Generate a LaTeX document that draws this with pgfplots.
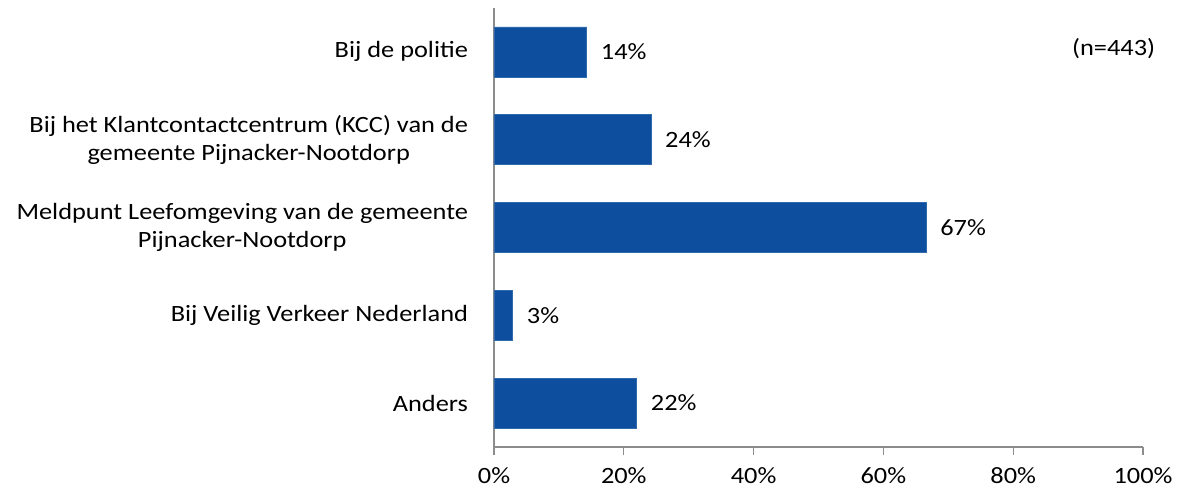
\documentclass[border=0pt]{standalone}
\usepackage{fontspec}
\setmainfont{Carlito}[FakeStretch=1.13]
\usepackage{pgfplots}
\pgfplotsset{compat=1.18}
\definecolor{barblue}{HTML}{0D4F9E}
\definecolor{axisgray}{HTML}{8C8C8C}
\begin{document}
\begin{tikzpicture}[x=1pt,y=1pt]
\begin{axis}[
  scale only axis,
  width=486.75pt, height=329.25pt,
  xbar, bar width=37.5pt,
  xmin=0, xmax=100, ymin=-0.5, ymax=4.5,
  y dir=reverse,
  axis x line*=bottom, axis y line*=left,
  axis line style={draw=axisgray, line width=1pt, -},
  xtick={0,20,40,60,80,100},
  xticklabel={\pgfmathprintnumber{\tick}\%},
  /pgf/number format/assume math mode=true,
  x tick style={draw=axisgray, line width=1pt},
  tick align=outside, major tick length=6pt,
  xticklabel style={font=\fontsize{17.5}{20}\selectfont, yshift=-6pt},
  ytick={0,1,2,3,4},
  y tick style={draw=none},
  yticklabels={Bij de politie, {Bij het Klantcontactcentrum (KCC) van de\\gemeente Pijnacker-Nootdorp}, {Meldpunt Leefomgeving van de gemeente\\Pijnacker-Nootdorp}, Bij Veilig Verkeer Nederland, Anders},
  yticklabel style={font=\fontsize{17.5}{21}\selectfont, align=center, xshift=-10pt},
  point meta=explicit symbolic,
  nodes near coords={\pgfplotspointmeta\%},
  nodes near coords style={font=\fontsize{17.5}{20}\selectfont, anchor=west, xshift=7pt, text=black},
  clip=false,
]
\addplot[fill=barblue, draw=barblue!85!white, line width=0.5pt] coordinates {
  (14.3,0) [14]
  (24.2,1) [24]
  (66.6,2) [67]
  (2.9,3) [3]
  (22.0,4) [22]
};
\node[anchor=east, font=\fontsize{17.5}{20}\selectfont] at (axis cs:102.6,-0.04) {(n=443)};
\end{axis}
\path (current axis.south west) ++(-370.5pt,-32.25pt) rectangle ([shift={(27.75pt,6pt)}]current axis.north east);
\end{tikzpicture}
\end{document}
